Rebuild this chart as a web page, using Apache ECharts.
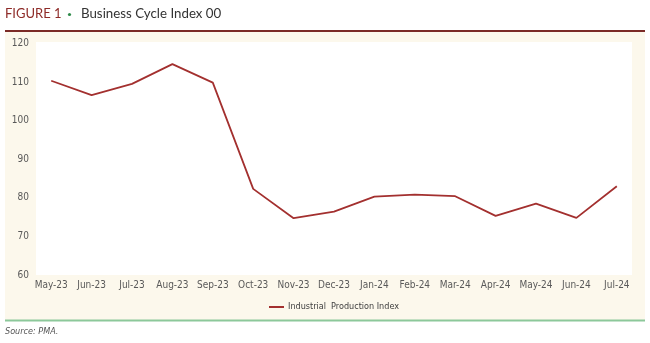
<!DOCTYPE html>
<html>
<head>
<meta charset="utf-8">
<script src="https://cdn.jsdelivr.net/npm/echarts@6/dist/echarts.min.js"></script>
<style>
html,body{margin:0;padding:0;background:#fff;}
#c{width:650px;height:343px;}
</style>
</head>
<body>
<div id="c"></div>
<script>
const categories = ['May-23','Jun-23','Jul-23','Aug-23','Sep-23','Oct-23','Nov-23','Dec-23','Jan-24','Feb-24','Mar-24','Apr-24','May-24','Jun-24','Jul-24'];
const industrialProduction = [110.3, 106.6, 109.5, 114.6, 109.8, 82.3, 74.7, 76.4, 80.3, 80.8, 80.4, 75.3, 78.5, 74.8, 83.0];
const seriesName = 'Industrial  Production Index';
const yMin = 60, yMax = 120, yStep = 10;

// pick a narrow font that is installed
function hasFont(name){
  const cv = document.createElement('canvas').getContext('2d');
  const s = 'abcdefghijklmnopqrstuvwxyz0123456789-';
  let diff = false;
  ['monospace','serif'].forEach(function(fb){
    cv.font = '20px ' + fb; const w0 = cv.measureText(s).width;
    cv.font = "20px '" + name + "'," + fb; const w1 = cv.measureText(s).width;
    if (Math.abs(w0 - w1) > 0.5) diff = true;
  });
  return diff;
}
let narrow = "'Liberation Sans',sans-serif", tickSize = 10, legendSize = 9;
if (hasFont('Liberation Sans Narrow')) { narrow = "'Liberation Sans Narrow',sans-serif"; tickSize = 11; legendSize = 10.5; }
else if (hasFont('Arial Narrow')) { narrow = "'Arial Narrow',sans-serif"; tickSize = 11; legendSize = 10.5; }
else if (hasFont('DejaVu Sans Condensed')) { narrow = "'DejaVu Sans Condensed',sans-serif"; tickSize = 10; legendSize = 9; }

const titleFont = "Lato,'Liberation Sans',sans-serif";
const chart = echarts.init(document.getElementById('c'), null, {renderer:'canvas'});
chart.setOption({
  animation:false,
  backgroundColor:'#ffffff',
  graphic:[
    {type:'rect', z:-10, shape:{x:5,y:32,width:640,height:288}, style:{fill:'#FCF8EC'}},
    {type:'rect', z:-9, shape:{x:36,y:42,width:596,height:233}, style:{fill:'#ffffff'}},
    {type:'line', shape:{x1:5,y1:31,x2:645,y2:31}, style:{stroke:'#7B2A26',lineWidth:2}},
    {type:'line', shape:{x1:5,y1:320.5,x2:645,y2:320.5}, style:{stroke:'#8CC89A',lineWidth:2}},
    {type:'text', left:5, top:7, style:{text:'FIGURE 1', fill:'#8E2B28', font:"13px "+titleFont}},
    {type:'circle', shape:{cx:69.5, cy:14.5, r:1.6}, style:{fill:'#2E8B4A'}},
    {type:'text', left:81, top:7, style:{text:'Business Cycle Index 00', fill:'#333333', font:"13.3px "+titleFont}},
    {type:'text', left:5, top:327, style:{text:'Source: PMA.', fill:'#555555', font:"italic 9px "+narrow}}
  ],
  grid:{left:31, right:13, top:43.3, bottom:68, containLabel:false},
  xAxis:{
    type:'category', data:categories, boundaryGap:true,
    axisLine:{show:false}, axisTick:{show:false}, splitLine:{show:false},
    axisLabel:{color:'#595959', fontSize:tickSize, fontFamily:narrow, margin:5, interval:0}
  },
  yAxis:{
    type:'value', min:yMin, max:yMax, interval:yStep,
    axisLine:{show:false}, axisTick:{show:false}, splitLine:{show:false},
    axisLabel:{color:'#595959', fontSize:tickSize, fontFamily:narrow, margin:2}
  },
  legend:{
    show:true, left:269, top:302.5, padding:0, itemWidth:15, itemHeight:2, itemGap:4,
    icon:'rect',
    textStyle:{color:'#404040', fontSize:legendSize, fontFamily:narrow, padding:[0,0,0,-1]},
    data:[{name:seriesName}]
  },
  series:[{
    name:seriesName, type:'line', data:industrialProduction,
    symbol:'none', lineStyle:{color:'#A3302F', width:1.8}, itemStyle:{color:'#A3302F'}
  }]
});
</script>
</body>
</html>
